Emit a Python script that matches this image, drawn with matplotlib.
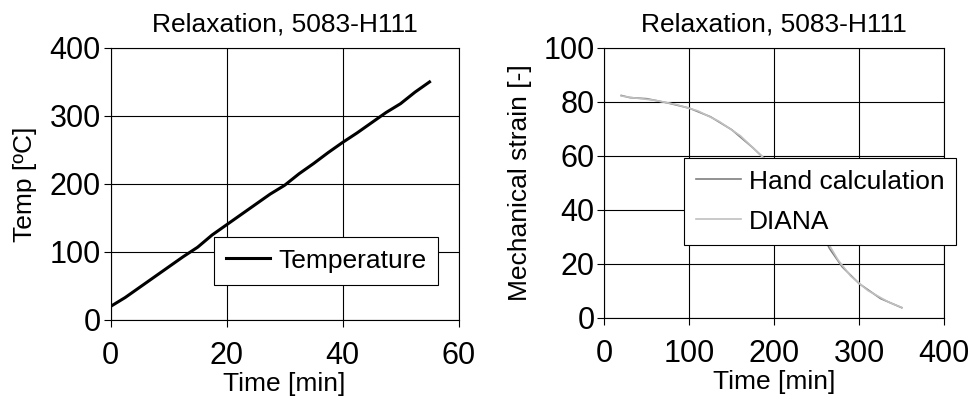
import matplotlib
matplotlib.use("Agg")
import matplotlib.pyplot as plt

plt.rcParams["font.family"] = ["Liberation Sans", "DejaVu Sans"]

# left panel: temperature ramp
time_min = [0, 2.5, 5, 7.5, 10, 12.5, 15, 17.5, 20, 22.5, 25, 27.5,
            30, 32.5, 35, 37.5, 40, 42.5, 45, 47.5, 50, 52.5, 55]
temp_c = [20, 33, 48, 63, 78, 93, 107, 125, 140, 155, 170, 185,
          198, 215, 230, 246, 261, 275, 290, 305, 318, 335, 350]

# right panel: mechanical strain
hand_t = [20, 30, 50, 75, 100, 125, 150, 175, 200, 225, 250, 265,
          280, 300, 325, 350]
hand_strain = [82.4, 81.6, 81.2, 79.6, 77.7, 74.5, 69.7, 63.0, 55.5,
               46.5, 35.5, 25.7, 18.9, 12.7, 7.2, 3.8]
diana_t = [20, 35, 60, 85, 110, 135, 160, 185, 210, 235, 260, 275,
           290, 310, 335, 350]
diana_strain = [82.2, 81.5, 80.6, 79.0, 76.7, 72.8, 67.5, 60.0, 52.0,
                42.5, 29.5, 21.5, 15.5, 10.2, 5.8, 3.9]

title = "Relaxation, 5083-H111"
TXT = 19
TICK = 22


def style(ax, xmax, xstep, ymax, ystep):
    ax.set_xlim(0, xmax)
    ax.set_ylim(0, ymax)
    ax.set_xticks(range(0, xmax + 1, xstep))
    ax.set_yticks(range(0, ymax + 1, ystep))
    ax.grid(True, color="black", linewidth=0.8)
    ax.set_axisbelow(True)
    for sp in ax.spines.values():
        sp.set_color("black")
        sp.set_linewidth(0.8)
    ax.tick_params(axis="both", direction="out", length=5, width=0.8,
                   labelsize=TICK)
    ax.tick_params(axis="x", pad=10)
    ax.tick_params(axis="y", pad=2)
    ax.set_title(title, fontsize=TXT, pad=12)
    ax.set_xlabel("Time [min]", fontsize=TXT, labelpad=1)


fig = plt.figure(figsize=(9.77, 3.96), dpi=100)
ax1 = fig.add_axes([0.1133, 0.192, 0.356, 0.687])
ax2 = fig.add_axes([0.6185, 0.197, 0.348, 0.682])

ax1.plot(time_min, temp_c, color="black", linewidth=2.2, label="Temperature")
style(ax1, 60, 20, 400, 100)
ax1.set_ylabel("Temp [ºC]", fontsize=TXT, labelpad=9)
leg1 = ax1.legend(loc="lower left", bbox_to_anchor=(0.296, 0.13),
                  fontsize=TXT, fancybox=False, framealpha=1,
                  edgecolor="black", handlelength=1.7, handletextpad=0.3,
                  borderpad=0.45, borderaxespad=0)
leg1.get_frame().set_linewidth(0.8)

ax2.plot(hand_t, hand_strain, color="#7f7f7f", linewidth=1.2,
         label="Hand calculation")
ax2.plot(diana_t, diana_strain, color="#c0c0c0", linewidth=1.2,
         label="DIANA")
style(ax2, 400, 100, 100, 20)
ax2.set_ylabel("Mechanical strain [-]", fontsize=TXT, labelpad=8)
leg2 = ax2.legend(loc="upper right", bbox_to_anchor=(1.035, 0.593),
                  fontsize=TXT, fancybox=False, framealpha=1,
                  edgecolor="black", handlelength=1.7, handletextpad=0.3,
                  borderpad=0.45, borderaxespad=0, labelspacing=0.6)
leg2.get_frame().set_linewidth(0.8)

fig.savefig("out.png", dpi=100)
